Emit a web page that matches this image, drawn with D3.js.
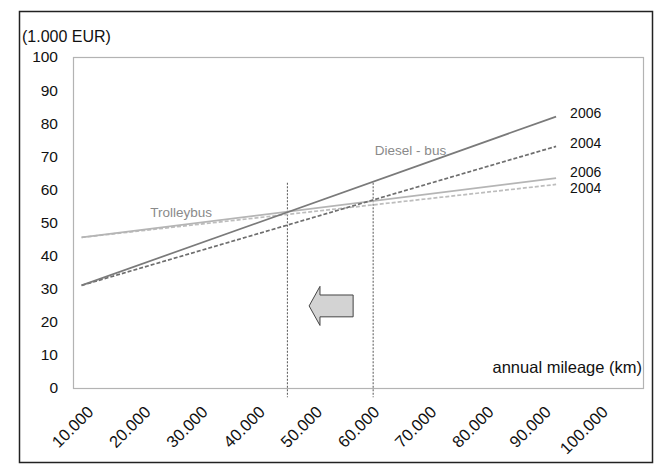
<!DOCTYPE html>
<html>
<head>
<meta charset="utf-8">
<script src="https://cdn.jsdelivr.net/npm/d3@7"></script>
<style>
  body { margin: 0; background: #fff; }
  text { font-family: "Liberation Sans", Arial, sans-serif; }
</style>
</head>
<body>
<div id="chart"></div>
<script>
// mileage endpoints of the cost lines (km)
const mileage = [8000, 91000];

// costs in 1.000 EUR at start and end mileage
const dieselBus2006 = [31, 82];
const dieselBus2004 = [31, 73];
const trolleybus2006 = [45.5, 63.4];
const trolleybus2004 = [45.5, 61.5];

// break-even markers (km) and the top of each marker (1.000 EUR)
const breakEven = [44000, 59000];
const breakEvenTop = [62, 62];

const yTicks = [0, 10, 20, 30, 40, 50, 60, 70, 80, 90, 100];
const xTicks = [10000, 20000, 30000, 40000, 50000, 60000, 70000, 80000, 90000, 100000];

const W = 658, H = 476;
const plot = { left: 73, top: 57, right: 643, bottom: 388 };

const svg = d3.select("#chart")
    .append("svg")
    .attr("width", W)
    .attr("height", H);

// outer frame
svg.append("rect")
    .attr("x", 19.5).attr("y", 11.5)
    .attr("width", 633).attr("height", 451)
    .attr("fill", "none")
    .attr("stroke", "#222")
    .attr("stroke-width", 1.5);

const x = d3.scaleLinear()
    .domain([6500, 106200])
    .range([plot.left, plot.right]);

const y = d3.scaleLinear()
    .domain([0, 100])
    .range([plot.bottom, plot.top]);

// plot area border
svg.append("rect")
    .attr("x", plot.left + 0.5).attr("y", plot.top + 0.5)
    .attr("width", plot.right - plot.left).attr("height", plot.bottom - plot.top)
    .attr("fill", "none")
    .attr("stroke", "#b3b3b3")
    .attr("stroke-width", 1.2);

// y axis labels
svg.append("g")
    .attr("transform", `translate(${plot.left},0)`)
    .call(d3.axisLeft(y).tickValues(yTicks).tickSize(0).tickPadding(15))
    .call(g => g.select(".domain").remove())
    .selectAll("text")
    .attr("font-size", 15.5)
    .attr("font-family", "Liberation Sans, Arial, sans-serif")
    .attr("fill", "#111");

// x axis labels (rotated)
svg.append("g")
    .attr("transform", `translate(0,${plot.bottom})`)
    .call(d3.axisBottom(x).tickValues(xTicks).tickSize(0)
        .tickFormat(d => d3.format(",")(d).replace(/,/g, ".")))
    .call(g => g.select(".domain").remove())
    .selectAll("text")
    .attr("font-size", 16.5)
    .attr("font-family", "Liberation Sans, Arial, sans-serif")
    .attr("fill", "#111")
    .attr("dy", 0)
    .attr("y", 0)
    .attr("transform", "translate(1,25) rotate(-45)")
    .style("text-anchor", "end");

// axis titles
svg.append("text")
    .attr("x", 22).attr("y", 42)
    .attr("font-size", 16)
    .attr("fill", "#111")
    .text("(1.000 EUR)");

svg.append("text")
    .attr("x", plot.right - 1).attr("y", 373)
    .attr("text-anchor", "end")
    .attr("font-size", 16.5)
    .attr("fill", "#111")
    .text("annual mileage (km)");

// break-even markers
svg.selectAll(".marker")
    .data(breakEven)
    .enter()
    .append("line")
    .attr("class", "marker")
    .attr("x1", d => x(d)).attr("x2", d => x(d))
    .attr("y1", (d, i) => y(breakEvenTop[i]))
    .attr("y2", y(-2.8))
    .attr("stroke", "#555")
    .attr("stroke-width", 1)
    .attr("stroke-dasharray", "2,1.5");

const series = [
    { name: "trolley2004", values: trolleybus2004, color: "#bdbdbd", dash: "4,2", label: "2004" },
    { name: "trolley2006", values: trolleybus2006, color: "#b5b5b5", dash: null, label: "2006" },
    { name: "diesel2004", values: dieselBus2004, color: "#6e6e6e", dash: "4,2", label: "2004" },
    { name: "diesel2006", values: dieselBus2006, color: "#7a7a7a", dash: null, label: "2006" }
];

const line = d3.line()
    .x((d, i) => x(mileage[i]))
    .y(d => y(d));

svg.selectAll(".series")
    .data(series)
    .enter()
    .append("path")
    .attr("class", "series")
    .attr("d", d => line(d.values))
    .attr("fill", "none")
    .attr("stroke", d => d.color)
    .attr("stroke-width", 1.7)
    .attr("stroke-dasharray", d => d.dash);

// year labels at line ends (nudged so the two lower ones do not collide)
const labelOffset = { trolley2004: -1.2, trolley2006: 1.8, diesel2004: 1, diesel2006: 1.1 };
svg.selectAll(".yearLabel")
    .data(series)
    .enter()
    .append("text")
    .attr("class", "yearLabel")
    .attr("x", x(mileage[1]) + 14)
    .attr("y", d => y(d.values[1] + labelOffset[d.name]))
    .attr("dy", "0.35em")
    .attr("font-family", "Open Sans, sans-serif")
    .attr("font-size", 14)
    .attr("fill", "#111")
    .text(d => d.label);

// series names
svg.append("text")
    .attr("x", x(20000)).attr("y", y(53))
    .attr("dy", "0.35em")
    .attr("font-family", "Open Sans, sans-serif")
    .attr("font-size", 13.5)
    .attr("fill", "#8a8a8a")
    .text("Trolleybus");

svg.append("text")
    .attr("x", x(59300)).attr("y", y(71.8))
    .attr("dy", "0.35em")
    .attr("font-family", "Open Sans, sans-serif")
    .attr("font-size", 13.5)
    .attr("fill", "#8a8a8a")
    .text("Diesel - bus");

// arrow pointing toward lower mileage
const arrow = { tip: 47800, neck: 49700, tail: 55500, mid: 24.8, body: 3.3, head: 5.9 };
const arrowPts = [
    [x(arrow.tip), y(arrow.mid)],
    [x(arrow.neck), y(arrow.mid + arrow.head)],
    [x(arrow.neck), y(arrow.mid + arrow.body)],
    [x(arrow.tail), y(arrow.mid + arrow.body)],
    [x(arrow.tail), y(arrow.mid - arrow.body)],
    [x(arrow.neck), y(arrow.mid - arrow.body)],
    [x(arrow.neck), y(arrow.mid - arrow.head)]
];
svg.append("polygon")
    .attr("points", arrowPts.map(p => p.join(",")).join(" "))
    .attr("fill", "#d3d3d3")
    .attr("stroke", "#444")
    .attr("stroke-width", 1);
</script>
</body>
</html>
